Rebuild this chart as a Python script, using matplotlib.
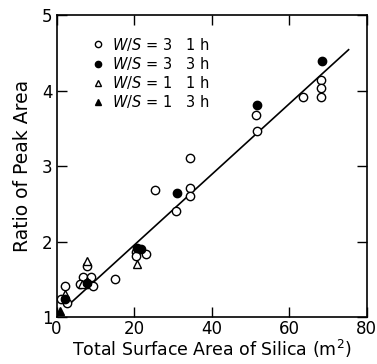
import matplotlib
matplotlib.use("Agg")
import matplotlib.pyplot as plt
import numpy as np

# W/S = 3, 1 h (open circles)
open_circ_x = [68.1, 68.1, 68.1, 63.5, 51.4, 51.6, 34.4, 34.4, 34.4, 25.4, 30.8, 15.1,
               20.5, 23.0, 20.6, 6.7, 7.9, 8.8, 7.9, 9.3, 6.0, 2.2, 1.1, 2.6]
open_circ_y = [4.14, 4.03, 3.91, 3.92, 3.67, 3.46, 3.11, 2.71, 2.61, 2.69, 2.41, 1.51,
               1.86, 1.84, 1.81, 1.54, 1.68, 1.54, 1.44, 1.42, 1.44, 1.41, 1.24, 1.19]
# W/S = 3, 3 h (filled circles)
fill_circ_x = [68.4, 51.8, 31.0, 20.8, 21.9, 7.9, 2.2]
fill_circ_y = [4.39, 3.81, 2.65, 1.92, 1.90, 1.46, 1.24]
# W/S = 1, 1 h (open triangles)
open_tri_x = [20.8, 7.9, 6.5, 2.2]
open_tri_y = [1.71, 1.75, 1.44, 1.31]
# W/S = 1, 3 h (filled triangles)
fill_tri_x = [0.9, 7.9]
fill_tri_y = [1.09, 1.48]

# fitted line end points
fit_x = [3.2, 75.3]
fit_y = [1.17, 4.54]

fig = plt.figure(figsize=(3.77, 3.64), dpi=100)
ax = fig.add_axes([0.150, 0.128, 0.823, 0.831])

ax.plot(fit_x, fit_y, color="black", lw=1.2, zorder=1)

ms = 6
ax.plot(open_circ_x, open_circ_y, "o", ms=ms, mfc="white", mec="black", mew=1.0,
        ls="none", label=r"$\it{W/S}$ = 3   1 h", zorder=3)
ax.plot(fill_circ_x, fill_circ_y, "o", ms=ms, mfc="black", mec="black",
        ls="none", label=r"$\it{W/S}$ = 3   3 h", zorder=4)
ax.plot(open_tri_x, open_tri_y, "^", ms=ms, mfc="white", mec="black", mew=1.0,
        ls="none", label=r"$\it{W/S}$ = 1   1 h", zorder=3)
ax.plot(fill_tri_x, fill_tri_y, "^", ms=ms, mfc="black", mec="black",
        ls="none", label=r"$\it{W/S}$ = 1   3 h", zorder=4)

ax.set_xlim(0, 80)
ax.set_ylim(1, 5)
ax.set_xticks([0, 20, 40, 60, 80])
ax.set_yticks([1, 2, 3, 4, 5])
ax.tick_params(direction="in", length=7, width=1, labelsize=12, top=True, right=True, pad=3)
ax.tick_params(axis="x", pad=2)
for s in ax.spines.values():
    s.set_linewidth(1.2)

ax.set_xlabel("Total Surface Area of Silica (m$^2$)", fontsize=12.5, labelpad=0)
ax.set_ylabel("Ratio of Peak Area", fontsize=13.5, labelpad=7)

ax.legend(loc="upper left", frameon=False, fontsize=10.5, handletextpad=0.35,
          labelspacing=0.15, borderaxespad=0.6, handlelength=1.2,
          bbox_to_anchor=(0.06, 0.98), markerscale=0.75)

fig.savefig("out.png", dpi=100)
